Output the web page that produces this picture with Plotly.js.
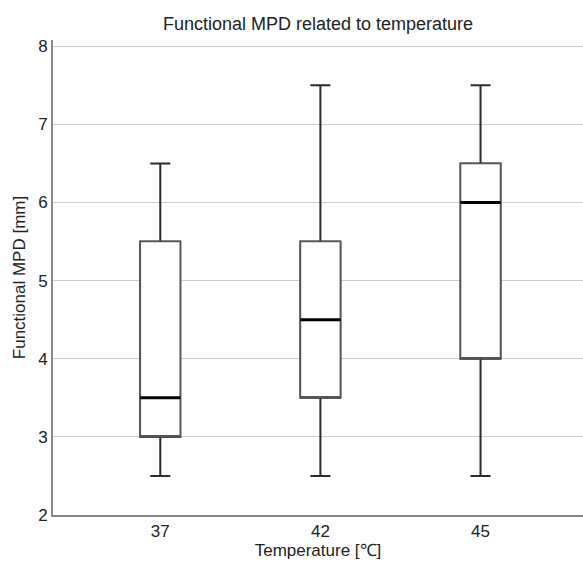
<!DOCTYPE html>
<html>
<head>
<meta charset="utf-8">
<script src="https://cdn.plot.ly/plotly-3.0.1.min.js"></script>
<style>html,body{margin:0;padding:0;background:#fff;overflow:hidden;}#chart{width:583px;height:565px;}</style>
</head>
<body>
<div id="chart"></div>
<script>
const categories = ["37", "42", "45"];
const lowerWhisker = [2.5, 2.5, 2.5];
const q1Values = [3.0, 3.5, 4.0];
const medianValues = [3.5, 4.5, 6.0];
const q3Values = [5.5, 5.5, 6.5];
const upperWhisker = [6.5, 7.5, 7.5];
const yTicks = [2, 3, 4, 5, 6, 7, 8];

const whiskers = {
  type: "box", x: categories,
  q1: q1Values, median: medianValues, q3: q3Values,
  lowerfence: lowerWhisker, upperfence: upperWhisker,
  boxpoints: false, width: 0.25, whiskerwidth: 0.5,
  fillcolor: "#ffffff", line: {color: "#2b2b2b", width: 2},
  hoverinfo: "skip", showlegend: false
};
const boxes = {
  type: "box", x: categories,
  q1: q1Values, median: q1Values, q3: q3Values,
  lowerfence: q1Values, upperfence: q3Values,
  boxpoints: false, width: 0.25, whiskerwidth: 0,
  fillcolor: "#ffffff", line: {color: "#555555", width: 1.6},
  hoverinfo: "skip", showlegend: false
};
const medians = {
  type: "box", x: categories,
  q1: medianValues, median: medianValues, q3: medianValues,
  lowerfence: medianValues, upperfence: medianValues,
  boxpoints: false, width: 0.25, whiskerwidth: 0,
  fillcolor: "#000000", line: {color: "#000000", width: 3},
  hoverinfo: "skip", showlegend: false
};

const layout = {
  width: 583, height: 565,
  margin: {l: 53, r: 0, t: 40, b: 50},
  paper_bgcolor: "#ffffff", plot_bgcolor: "#ffffff",
  font: {family: "Liberation Sans, Arial, sans-serif", size: 17, color: "#222"},
  title: {text: "Functional MPD related to temperature", xref: "paper", x: 0.5, xanchor: "center", yref: "container", y: 0.958, yanchor: "middle", font: {size: 18, color: "#222"}},
  boxmode: "overlay",
  showlegend: false,
  xaxis: {
    type: "category", range: [-0.67, 2.64],
    showgrid: false, zeroline: false,
    showline: true, linecolor: "#8a8a8a", linewidth: 2,
    ticks: "", tickfont: {size: 17, color: "#222"},
    title: {text: "Temperature [℃]", standoff: 2, font: {size: 17, color: "#222"}}
  },
  yaxis: {
    range: [2, 8.08], tickvals: yTicks, ticktext: yTicks.map(String),
    showgrid: true, gridcolor: "#cccccc", gridwidth: 1.2,
    zeroline: false, showline: true, linecolor: "#8a8a8a", linewidth: 2,
    ticks: "", tickfont: {size: 17, color: "#222"},
    title: {text: "Functional MPD [mm]", standoff: 8, font: {size: 17, color: "#222"}}
  }
};

Plotly.newPlot("chart", [whiskers, boxes, medians], layout, {displayModeBar: false, staticPlot: true});
</script>
</body>
</html>
